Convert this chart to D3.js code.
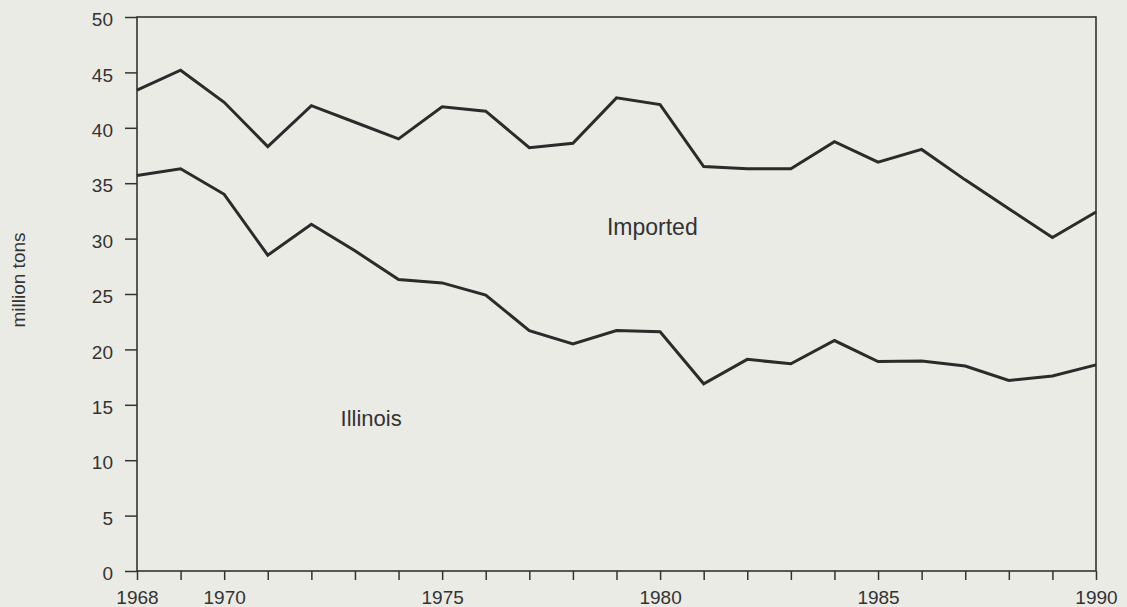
<!DOCTYPE html>
<html>
<head>
<meta charset="utf-8">
<script src="https://cdn.jsdelivr.net/npm/d3@7"></script>
<style>
  html, body { margin: 0; padding: 0; background: #ebebe5; }
  svg { display: block; }
  text { font-family: 'Liberation Sans', Arial, Helvetica, sans-serif; fill: #333; }
  .axis line { stroke: #333; stroke-width: 1.5; }
  .axis text { font-size: 19px; }
  .series { fill: none; stroke: #2b2b2b; stroke-width: 3; stroke-linejoin: miter; }
</style>
</head>
<body>
<div class="chart"></div>
<script>
const years = d3.range(1968, 1991)
const imported = [43.4, 45.2, 42.3, 38.3, 42.0, 40.5, 39.0, 41.9, 41.5, 38.2, 38.6,
  42.7, 42.1, 36.5, 36.3, 36.3, 38.75, 36.9, 38.05, 35.3, 32.7, 30.1, 32.4]
const illinois = [35.7, 36.3, 34.0, 28.5, 31.3, 28.9, 26.3, 26.0, 24.9, 21.7, 20.5,
  21.7, 21.6, 16.9, 19.1, 18.7, 20.8, 18.9, 18.95, 18.5, 17.2, 17.6, 18.6]
const yTicks = d3.range(0, 51, 5)
const labelledYears = [1968, 1970, 1975, 1980, 1985, 1990]
const seriesLabels = ['Imported', 'Illinois']
const yTitle = 'million tons'

const width = 1127
const height = 607
const margin = {top: 17, right: 31, bottom: 36, left: 137}

const svg = d3.select('.chart').append('svg')
  .attr('width', width)
  .attr('height', height)

const scaleX = d3.scaleLinear()
  .domain([1968, 1990])
  .range([margin.left, width - margin.right])

const scaleY = d3.scaleLinear()
  .domain([0, 50])
  .range([height - margin.bottom, margin.top])

// frame
svg.append('rect')
  .attr('x', scaleX(1968))
  .attr('y', scaleY(50))
  .attr('width', scaleX(1990) - scaleX(1968))
  .attr('height', scaleY(0) - scaleY(50))
  .attr('fill', 'none')
  .attr('stroke', '#333')
  .attr('stroke-width', 1.6)

const axisLeft = d3.axisLeft(scaleY)
  .tickValues(yTicks)
  .tickSize(12)
  .tickPadding(12)
  .tickFormat(d3.format('d'))

const y = svg.append('g')
  .attr('class', 'axis axis--y')
  .attr('transform', `translate(${margin.left},0)`)
  .call(axisLeft)
y.select('.domain').remove()
y.selectAll('text').attr('dy', '0.46em')

const axisBottom = d3.axisBottom(scaleX)
  .tickValues(years)
  .tickSize(9)
  .tickFormat(d => labelledYears.includes(d) ? d : '')

const x = svg.append('g')
  .attr('class', 'axis axis--x')
  .attr('transform', `translate(0,${scaleY(0)})`)
  .call(axisBottom)
x.select('.domain').remove()
x.selectAll('text').attr('y', 33).attr('dy', 0)

svg.append('text')
  .attr('transform', 'translate(25,280) rotate(-90)')
  .attr('text-anchor', 'middle')
  .style('font-size', '19px')
  .text(yTitle)

const line = d3.line()
  .x((d, i) => scaleX(years[i]))
  .y(d => scaleY(d))

svg.selectAll('path.series')
  .data([imported, illinois])
  .enter().append('path')
  .attr('class', 'series')
  .attr('d', line)

// series labels, anchored in data units
const labelAnchors = [[1978.78, 30.3], [1972.67, 13.1]]
svg.selectAll('text.label')
  .data(seriesLabels)
  .enter().append('text')
  .attr('class', 'label')
  .attr('x', (d, i) => scaleX(labelAnchors[i][0]))
  .attr('y', (d, i) => scaleY(labelAnchors[i][1]))
  .style('font-size', (d, i) => i === 0 ? '23px' : '22px')
  .text(d => d)
</script>
</body>
</html>
